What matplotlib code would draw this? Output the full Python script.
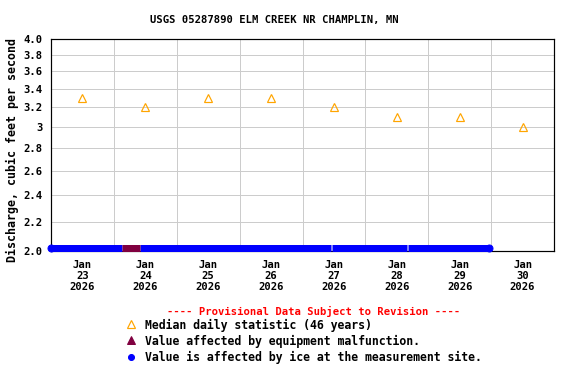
import matplotlib
matplotlib.use("Agg")
import matplotlib.pyplot as plt
import matplotlib.dates as mdates
from matplotlib.ticker import FixedLocator, NullFormatter, NullLocator
from datetime import datetime

title = "USGS 05287890 ELM CREEK NR CHAMPLIN, MN"
ylabel = "Discharge, cubic feet per second"

median_dates = ["2026-01-23 12:00", "2026-01-24 12:00", "2026-01-25 12:00", "2026-01-26 12:00",
                "2026-01-27 12:00", "2026-01-28 12:00", "2026-01-29 12:00", "2026-01-30 12:00"]
median_values = [3.3, 3.2, 3.3, 3.3, 3.2, 3.1, 3.1, 3.0]

# ice-affected segments (start, end) and value
ice_starts = ["2026-01-23 00:00", "2026-01-24 10:00", "2026-01-27 11:15", "2026-01-28 16:15"]
ice_ends = ["2026-01-24 03:00", "2026-01-27 11:00", "2026-01-28 16:00", "2026-01-29 23:00"]
ice_value = 2.02
# equipment malfunction segment
eq_starts = ["2026-01-24 03:00"]
eq_ends = ["2026-01-24 10:00"]
eq_value = 2.02

yticks = [2.0, 2.2, 2.4, 2.6, 2.8, 3.0, 3.2, 3.4, 3.6, 3.8, 4.0]
ytick_labels = ["2.0", "2.2", "2.4", "2.6", "2.8", "3", "3.2", "3.4", "3.6", "3.8", "4.0"]
xtick_labels = ["Jan\n23\n2026", "Jan\n24\n2026", "Jan\n25\n2026", "Jan\n26\n2026",
                "Jan\n27\n2026", "Jan\n28\n2026", "Jan\n29\n2026", "Jan\n30\n2026"]

legend_title = "---- Provisional Data Subject to Revision ----"
legend_items = ["Median daily statistic (46 years)",
                "Value affected by equipment malfunction.",
                "Value is affected by ice at the measurement site."]

def d(s):
    return datetime.strptime(s, "%Y-%m-%d %H:%M")

font = "DejaVu Sans Mono"
fs = 10.5
fs_ylabel = 11.6
fs_legend = 11.5

fig = plt.figure(figsize=(8, 16/3), dpi=72)
ax = fig.add_axes([51/576, 1-251/384, 503/576, 212/384])
ax.set_yscale("log")
ax.set_ylim(2.0, 4.0)
ax.set_xlim(d("2026-01-23 00:00"), d("2026-01-31 00:00"))

ax.yaxis.set_major_locator(FixedLocator(yticks))
ax.yaxis.set_minor_locator(NullLocator())
ax.set_yticklabels(ytick_labels, fontfamily=font, fontweight="bold", fontsize=fs)
xt = [mdates.date2num(d(s)) for s in median_dates]
ax.xaxis.set_major_locator(FixedLocator(xt))
ax.set_xticklabels(xtick_labels, fontfamily=font, fontweight="bold", fontsize=fs, linespacing=1.15)
minor = [mdates.date2num(datetime(2026, 1, day)) for day in range(24, 31)]
ax.xaxis.set_minor_locator(FixedLocator(minor))
ax.xaxis.set_minor_formatter(NullFormatter())
ax.tick_params(axis="both", which="both", length=0)
ax.tick_params(axis="y", pad=8)
ax.tick_params(axis="x", pad=9)
ax.grid(True, which="major", axis="y", color="#cccccc", linewidth=1)
ax.grid(True, which="minor", axis="x", color="#cccccc", linewidth=1)
ax.set_axisbelow(True)
for sp in ax.spines.values():
    sp.set_linewidth(1.2)

for s, e in zip(ice_starts, ice_ends):
    ax.plot([d(s), d(e)], [ice_value, ice_value], color="#0000ff", linewidth=7,
            solid_capstyle="butt", clip_on=False, zorder=3)
ax.plot([d(ice_starts[0]), d(ice_ends[-1])], [ice_value, ice_value], linestyle="none",
        marker="o", markersize=7, color="#0000ff", clip_on=False, zorder=3)
for s, e in zip(eq_starts, eq_ends):
    ax.plot([d(s), d(e)], [eq_value, eq_value], color="#800040", linewidth=7,
            solid_capstyle="butt", clip_on=False, zorder=3)

ax.plot([d(s) for s in median_dates], median_values, linestyle="none", marker="^",
        markersize=8, markerfacecolor="none", markeredgecolor="#ffa500", markeredgewidth=1.2, zorder=4)

fig.text(274/576, 1-20/384, title, ha="center", va="center", fontfamily=font,
         fontweight="bold", fontsize=fs)
fig.text(12/576, 1-150/384, ylabel, ha="center", va="center", rotation=90,
         fontfamily=font, fontweight="bold", fontsize=fs_ylabel)

fig.text(314/576, 1-311/384, legend_title, ha="center", va="center", color="#ff0000",
         fontfamily=font, fontweight="bold", fontsize=fs)
lax = fig.add_axes([0, 0, 1, 1])
lax.set_xlim(0, 576)
lax.set_ylim(384, 0)
lax.axis("off")
lax.patch.set_alpha(0)
rows = [325, 341, 357]
lax.plot([131], [rows[0]-1], marker="^", markersize=8, markerfacecolor="none",
         markeredgecolor="#ffa500", markeredgewidth=1.2, linestyle="none")
lax.plot([131], [rows[1]-1], marker="^", markersize=8, color="#800040", linestyle="none")
lax.plot([131], [rows[2]], marker="o", markersize=6, color="#0000ff", linestyle="none")
for y, t in zip(rows, legend_items):
    lax.text(145, y, t, ha="left", va="center", fontfamily=font, fontweight="bold", fontsize=fs_legend)

fig.savefig("out.png", dpi=72)
